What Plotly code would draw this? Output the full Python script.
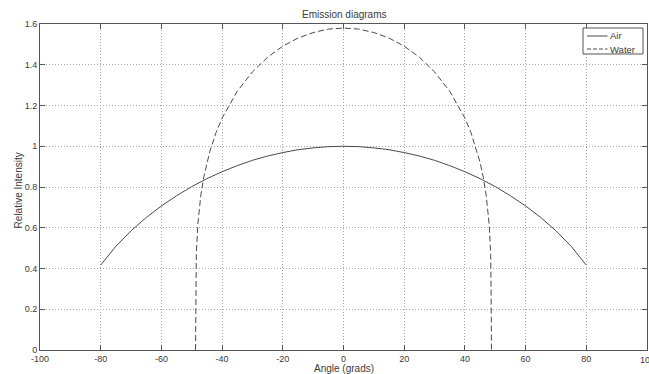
import plotly.graph_objects as go

# Emission intensity versus angle, read at fixed angles
air_angle = [-80, -75, -70, -65, -60, -55, -50, -45, -40, -35, -30, -25, -20, -15, -10, -5,
             0, 5, 10, 15, 20, 25, 30, 35, 40, 45, 50, 55, 60, 65, 70, 75, 80]
air_intensity = [0.417, 0.509, 0.585, 0.650, 0.707, 0.757, 0.802, 0.841, 0.875, 0.905, 0.931,
                 0.952, 0.969, 0.983, 0.992, 0.998, 1.000, 0.998, 0.992, 0.983, 0.969, 0.952,
                 0.931, 0.905, 0.875, 0.841, 0.802, 0.757, 0.707, 0.650, 0.585, 0.509, 0.417]

water_angle = [-48.75, -48.7, -48.5, -48, -47, -46, -45, -44, -42, -40, -35, -30, -25, -20, -15,
               -10, -5, 0, 5, 10, 15, 20, 25, 30, 35, 40, 42, 44, 45, 46, 47, 48, 48.5, 48.7, 48.75]
water_intensity = [0.0, 0.158, 0.469, 0.616, 0.761, 0.852, 0.921, 0.977, 1.067, 1.138, 1.270,
                   1.365, 1.437, 1.491, 1.531, 1.558, 1.575, 1.580, 1.575, 1.558, 1.531, 1.491,
                   1.437, 1.365, 1.270, 1.138, 1.067, 0.977, 0.921, 0.852, 0.761, 0.616, 0.469,
                   0.158, 0.0]

x_ticks = list(range(-100, 101, 20))
y_ticks = [0, 0.2, 0.4, 0.6, 0.8, 1, 1.2, 1.4, 1.6]
series_names = ["Air", "Water"]

line_col = "#4a4a4a"
axis_col = "#555555"
grid_col = "#a8a8a8"
text_col = "#3a3a3a"
font_family = "Liberation Sans, Arial, sans-serif"
water_dash = "6px,3px"

fig = go.Figure()
fig.add_trace(go.Scatter(x=air_angle, y=air_intensity, mode="lines", name=series_names[0],
                         line=dict(color=line_col, width=1), showlegend=False))
fig.add_trace(go.Scatter(x=water_angle, y=water_intensity, mode="lines", name=series_names[1],
                         line=dict(color=line_col, width=1, dash=water_dash), showlegend=False))

axis_common = dict(
    showline=True, linecolor=axis_col, linewidth=1, mirror="ticks",
    ticks="inside", ticklen=5, tickcolor=axis_col, tickwidth=1,
    showgrid=True, gridcolor=grid_col, griddash="1px,2px", gridwidth=1,
    zeroline=False, tickfont=dict(size=9, color=text_col, family=font_family),
)

# Compact boxed legend in the upper-right corner of the axes
legend_box = dict(x0=0.8946, x1=0.9934, y0=0.908, y1=0.9877)
legend_rows = [0.9632, 0.9233]
legend_dashes = ["solid", "4px,2px"]
shapes = [dict(type="rect", xref="paper", yref="paper", **legend_box,
               line=dict(color=axis_col, width=1), fillcolor="white", layer="above")]
annotations = []
for name, row_y, dash in zip(series_names, legend_rows, legend_dashes):
    shapes.append(dict(type="line", xref="paper", yref="paper", x0=0.9012, x1=0.9350,
                       y0=row_y, y1=row_y, line=dict(color=line_col, width=1, dash=dash),
                       layer="above"))
    annotations.append(dict(text=name, x=0.9360, y=row_y, xref="paper", yref="paper",
                            xanchor="left", yanchor="middle", showarrow=False,
                            font=dict(size=9.5, color=text_col)))

annotations += [
    dict(text="Emission diagrams", x=0.5, y=1, xref="paper", yref="paper",
         xanchor="center", yanchor="bottom", yshift=2, showarrow=False,
         font=dict(size=10, color=text_col)),
    dict(text="Angle (grads)", x=0.5, y=-0.058, xref="paper", yref="paper",
         xanchor="center", yanchor="middle", showarrow=False,
         font=dict(size=10, color=text_col)),
    dict(text="Relative Intensity", x=-0.036, y=0.49, xref="paper", yref="paper",
         xanchor="center", yanchor="middle", textangle=-90, showarrow=False,
         font=dict(size=10, color=text_col)),
    # last x tick label sits on the right edge of the page
    dict(text=str(x_ticks[-1]), x=x_ticks[-1], y=0, xref="x", yref="paper",
         xanchor="center", yanchor="top", yshift=-3, showarrow=False,
         font=dict(size=9, color=text_col)),
]

fig.update_layout(
    width=649, height=374,
    margin=dict(l=40, r=2, t=24, b=24),
    paper_bgcolor="white", plot_bgcolor="white",
    font=dict(family=font_family, color=text_col),
    xaxis=dict(range=[-100, 100], tickvals=x_ticks,
               ticktext=[str(v) for v in x_ticks], **axis_common),
    yaxis=dict(range=[0, 1.6], tickvals=y_ticks,
               ticktext=[("%g" % v) for v in y_ticks], **axis_common),
    shapes=shapes,
    annotations=annotations,
)

fig.write_html("out.html")
